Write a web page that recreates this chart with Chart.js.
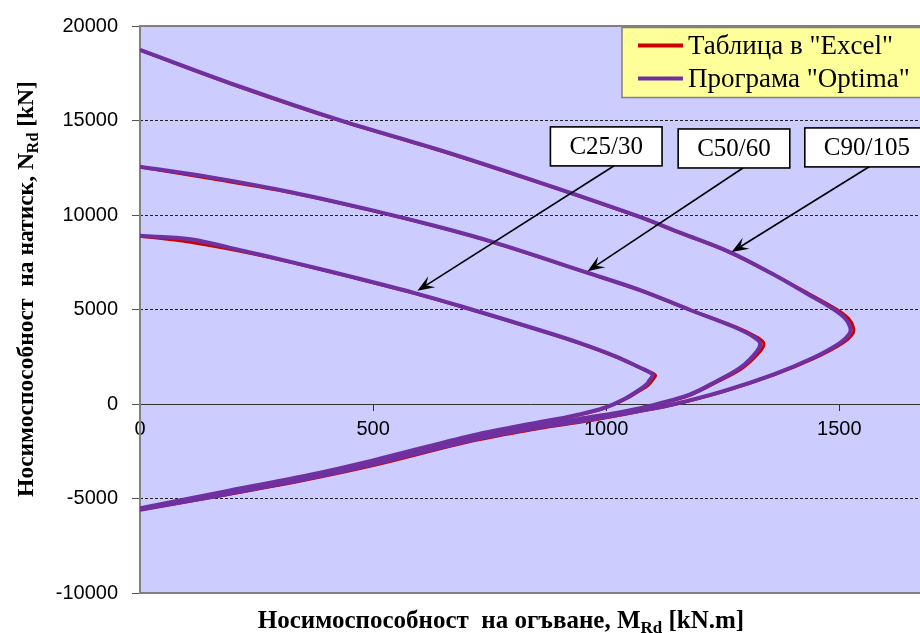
<!DOCTYPE html>
<html>
<head>
<meta charset="utf-8">
<script src="https://cdn.jsdelivr.net/npm/chart.js@4/dist/chart.umd.min.js"></script>
<style>
  html, body { margin: 0; padding: 0; background: #fff; }
</style>
</head>
<body>
<canvas id="chart" width="920" height="633"></canvas>
<script>
// Interaction diagrams, points are [M (kN.m), N (kN)]
const c25Excel = [[0,8880],[108,8560],[215,8080],[330,7460],[460,6670],[601,5770],[690,5140],[865,3830],[944,3200],[1020,2500],[1075,1900],[1100,1630],[1106,1510],[1099,1250],[1090,990],[1071,690],[1046,320],[1016,-30],[985,-310],[940,-590],[901,-800],[858,-990],[715,-1710],[500,-3050],[358,-3840],[180,-4680],[0,-5540]];
const c50Excel = [[0,12540],[144,11950],[322,11190],[501,10210],[644,9330],[758,8540],[958,6940],[1073,6000],[1182,4950],[1278,4080],[1322,3560],[1338,3220],[1330,2770],[1292,1890],[1240,1190],[1182,490],[1108,-40],[1073,-250],[1015,-540],[940,-840],[858,-1170],[715,-1830],[500,-3150],[358,-3930],[180,-4760],[0,-5560]];
const c90Excel = [[0,18720],[215,16760],[430,14980],[644,13400],[858,11690],[1065,9940],[1160,9030],[1265,8010],[1360,6840],[1435,5830],[1494,5010],[1520,4520],[1530,4080],[1529,3720],[1506,3200],[1446,2410],[1360,1540],[1252,660],[1144,-40],[1073,-390],[1015,-660],[940,-980],[858,-1290],[715,-1950],[500,-3260],[358,-4010],[180,-4830],[0,-5590]];

const c25Optima = [[0,8900],[108,8720],[215,8140],[330,7480],[460,6690],[601,5790],[690,5160],[865,3850],[944,3220],[1020,2520],[1073,1920],[1095,1650],[1100,1530],[1093,1260],[1085,1000],[1068,700],[1044,331],[1015,-16],[985,-290],[940,-560],[901,-770],[858,-950],[715,-1650],[500,-2980],[358,-3780],[180,-4640],[0,-5520]];
const c50Optima = [[0,12550],[144,12030],[322,11220],[501,10230],[644,9350],[758,8561],[958,6960],[1073,6024],[1180,4974],[1272,4100],[1315,3571],[1330,3220],[1323,2784],[1287,1906],[1237,1208],[1180,509],[1108,-16],[1073,-220],[1015,-500],[940,-790],[858,-1120],[715,-1760],[500,-3080],[358,-3870],[180,-4720],[0,-5560]];
const c90Optima = [[0,18740],[215,16790],[430,15005],[644,13430],[858,11712],[1065,9963],[1160,9050],[1265,8036],[1358,6860],[1430,5846],[1487,5025],[1512,4540],[1523,4080],[1522,3720],[1501,3220],[1443,2432],[1358,1560],[1251,683],[1144,-16],[1073,-360],[1015,-620],[940,-930],[858,-1230],[715,-1890],[500,-3190],[358,-3960],[180,-4800],[0,-5600]];

const seriesNames = ['Таблица в "Excel"', 'Програма "Optima"'];
const classLabels = ['C25/30', 'C50/60', 'C90/105'];

const xTickValues = [0, 500, 1000, 1500];
const yTickValues = [-10000, -5000, 0, 5000, 10000, 15000, 20000];

const xTitle = ['Носимоспособност  на огъване, M', 'Rd', ' [kN.m]'];
const yTitle = ['Носимоспособност  на натиск, N', 'Rd', ' [kN]'];

// callout boxes and arrows, in data units
const callouts = [
  { at: [1000, 13630], from: [1017, 12605], to: [595, 5990] },
  { at: [1274, 13520], from: [1294, 12500], to: [960, 7022] },
  { at: [1559, 13576], from: [1564, 12552], to: [1269, 8036] }
];

const RED = '#CC0000';
const PURPLE = '#7030A0';
const SERIF = '"Liberation Serif", "Times New Roman", serif';
const SANS = '"Liberation Sans", Arial, sans-serif';

function curve(points, color, width, order) {
  return {
    data: points.map(p => ({ x: p[0], y: p[1] })),
    showLine: true,
    borderColor: color,
    backgroundColor: color,
    borderWidth: width,
    pointRadius: 0,
    tension: 0.35,
    fill: false,
    order: order
  };
}

// text with a subscript part, centred on (0,0) of the current transform
function drawSubText(ctx, parts, size) {
  const big = 'bold ' + size + 'px ' + SERIF;
  const small = 'bold ' + Math.round(size * 0.68) + 'px ' + SERIF;
  const fonts = [big, small, big];
  let widths = parts.map((t, i) => { ctx.font = fonts[i]; return ctx.measureText(t).width; });
  let x = -widths.reduce((a, b) => a + b, 0) / 2;
  ctx.textBaseline = 'alphabetic';
  ctx.textAlign = 'left';
  ctx.fillStyle = '#000';
  parts.forEach((t, i) => {
    ctx.font = fonts[i];
    ctx.fillText(t, x, i === 1 ? size * 0.55 : size * 0.35);
    x += widths[i];
  });
}

const decor = {
  id: 'decor',
  beforeDraw(chart) {
    const { ctx, chartArea: a } = chart;
    ctx.save();
    ctx.fillStyle = '#fff';
    ctx.fillRect(0, 0, chart.width, chart.height);
    ctx.fillStyle = '#CCCCFF';
    ctx.fillRect(a.left, a.top, a.right - a.left, a.bottom - a.top);
    ctx.restore();
  },
  beforeDatasetsDraw(chart) {
    const { ctx, chartArea: a } = chart;
    ctx.save();
    ctx.strokeStyle = '#808080';
    ctx.lineWidth = 2;
    ctx.beginPath();
    ctx.moveTo(a.right + 2, a.top);
    ctx.lineTo(a.left, a.top);
    ctx.lineTo(a.left, a.bottom);
    ctx.lineTo(a.right + 2, a.bottom);
    ctx.stroke();
    ctx.restore();
  },
  afterDraw(chart) {
    const { ctx, chartArea: a, scales } = chart;
    const px = p => [scales.x.getPixelForValue(p[0]), scales.y.getPixelForValue(p[1])];
    ctx.save();

    // callouts
    callouts.forEach((c, i) => {
      const [sx, sy] = px(c.from);
      const [tx, ty] = px(c.to);
      ctx.strokeStyle = '#000';
      ctx.fillStyle = '#000';
      ctx.lineWidth = 1.6;
      const len = Math.hypot(tx - sx, ty - sy);
      const ux = (tx - sx) / len, uy = (ty - sy) / len;
      const L = 17, W = 6.5;
      ctx.beginPath();
      ctx.moveTo(sx, sy);
      ctx.lineTo(tx - ux * L * 0.6, ty - uy * L * 0.6);
      ctx.stroke();
      ctx.beginPath();
      ctx.moveTo(tx, ty);
      ctx.lineTo(tx - ux * L - uy * W, ty - uy * L + ux * W);
      ctx.lineTo(tx - ux * L * 0.6, ty - uy * L * 0.6);
      ctx.lineTo(tx - ux * L + uy * W, ty - uy * L - ux * W);
      ctx.closePath();
      ctx.fill();

      const [bx, by] = px(c.at);
      ctx.font = '25px ' + SERIF;
      const w = ctx.measureText(classLabels[i]).width + 38;
      const h = 39;
      ctx.fillStyle = '#fff';
      ctx.fillRect(bx - w / 2, by - h / 2, w, h);
      ctx.lineWidth = 1.6;
      ctx.strokeRect(bx - w / 2, by - h / 2, w, h);
      ctx.fillStyle = '#000';
      ctx.textAlign = 'center';
      ctx.textBaseline = 'middle';
      ctx.fillText(classLabels[i], bx, by + 1);
    });

    // legend box
    const lx = a.right - 298, ly = a.top + 1.5;
    ctx.fillStyle = '#FFFF99';
    ctx.fillRect(lx, ly, 310, 70);
    ctx.strokeStyle = '#808080';
    ctx.lineWidth = 1.5;
    ctx.strokeRect(lx, ly, 310, 70);
    [RED, PURPLE].forEach((col, i) => {
      const yy = ly + 18 + i * 33;
      ctx.strokeStyle = col;
      ctx.lineWidth = 4;
      ctx.beginPath();
      ctx.moveTo(lx + 16, yy);
      ctx.lineTo(lx + 61, yy);
      ctx.stroke();
      ctx.fillStyle = '#000';
      ctx.font = '27px ' + SERIF;
      ctx.textAlign = 'left';
      ctx.textBaseline = 'middle';
      ctx.fillText(seriesNames[i], lx + 66, yy + 1);
    });

    // axis titles
    ctx.save();
    ctx.translate(501, 619);
    drawSubText(ctx, xTitle, 25);
    ctx.restore();
    ctx.save();
    ctx.translate(25, 289);
    ctx.rotate(-Math.PI / 2);
    drawSubText(ctx, yTitle, 23.5);
    ctx.restore();

    ctx.restore();
  }
};

const gridAt = [15000, 10000, 5000, -5000];

new Chart(document.getElementById('chart'), {
  type: 'scatter',
  data: {
    datasets: [
      curve(c25Excel, RED, 3, 2),
      curve(c50Excel, RED, 3, 2),
      curve(c90Excel, RED, 3, 2),
      curve(c25Optima, PURPLE, 4, 1),
      curve(c50Optima, PURPLE, 4, 1),
      curve(c90Optima, PURPLE, 4, 1)
    ]
  },
  options: {
    responsive: false,
    animation: false,
    devicePixelRatio: 1,
    layout: { padding: { top: 22, right: 0, bottom: 40, left: 0 } },
    plugins: { legend: { display: false }, tooltip: { enabled: false } },
    scales: {
      x: {
        type: 'linear',
        position: { y: 0 },
        min: 0,
        max: 1673,
        afterBuildTicks: s => { s.ticks = xTickValues.map(v => ({ value: v })); },
        ticks: {
          autoSkip: false,
          maxRotation: 0,
          padding: 7,
          color: '#000',
          font: { family: SANS, size: 20 },
          callback: v => String(v)
        },
        grid: { drawOnChartArea: false, drawTicks: true, tickLength: 6, tickColor: '#333' },
        border: { display: true, color: '#333', width: 1 }
      },
      y: {
        min: -10000,
        max: 20000,
        afterBuildTicks: s => { s.ticks = yTickValues.map(v => ({ value: v })); },
        ticks: {
          autoSkip: false,
          padding: 14,
          color: '#000',
          font: { family: SANS, size: 20 },
          callback: v => String(v)
        },
        grid: {
          color: ctx => gridAt.includes(ctx.tick && ctx.tick.value) ? '#222' : 'rgba(0,0,0,0)',
          lineWidth: 1,
          tickLength: 8,
          tickColor: '#555'
        },
        border: { display: false, dash: [3, 2] },
        afterFit: s => { s.width = 140; }
      }
    }
  },
  plugins: [decor]
});
</script>
</body>
</html>
